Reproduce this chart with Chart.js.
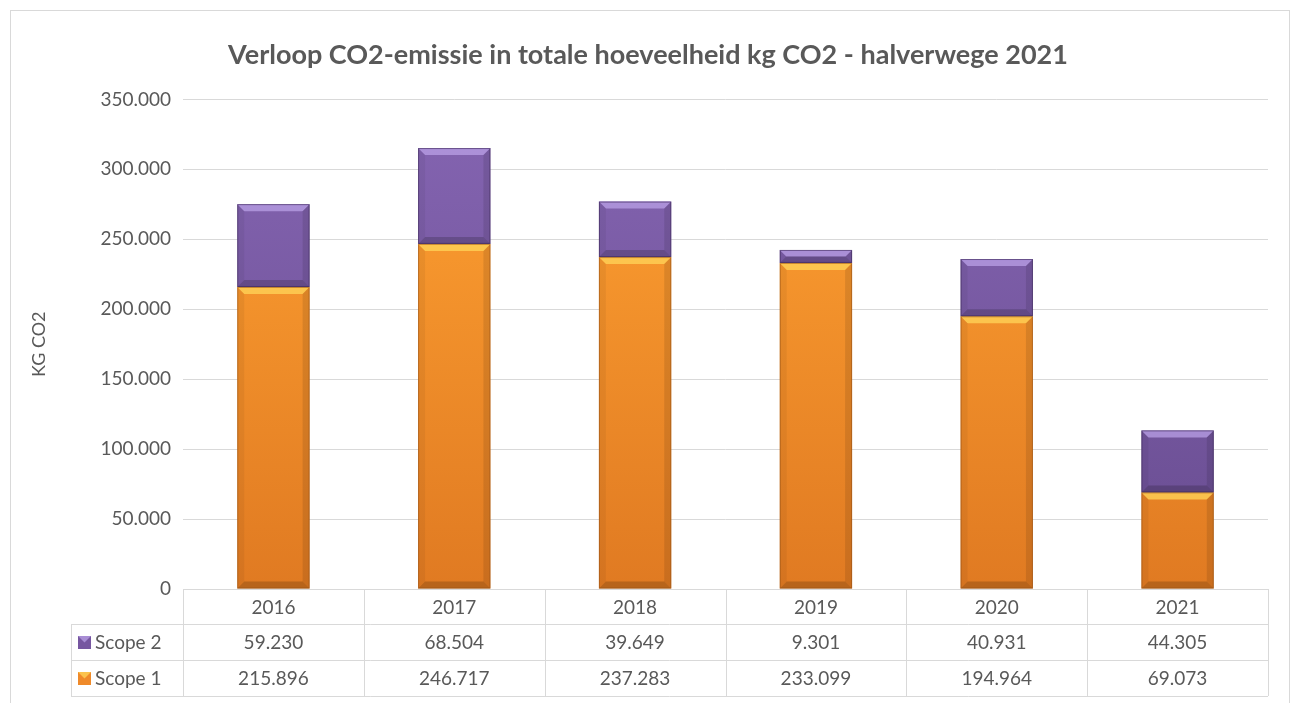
<!DOCTYPE html>
<html>
<head>
<meta charset="utf-8">
<script src="https://cdn.jsdelivr.net/npm/chart.js@4.4.1/dist/chart.umd.min.js"></script>
<style>
  html, body { margin: 0; padding: 0; background: #ffffff; }
  #wrap { width: 1300px; height: 703px; position: relative; }
</style>
</head>
<body>
<div id="wrap"><canvas id="co2Chart"></canvas></div>
<script>
const years = ['2016', '2017', '2018', '2019', '2020', '2021'];
const scope1 = [215896, 246717, 237283, 233099, 194964, 69073];
const scope2 = [59230, 68504, 39649, 9301, 40931, 44305];
const seriesNames = ['Scope 1', 'Scope 2'];
const titleText = 'Verloop CO2-emissie in totale hoeveelheid kg CO2 - halverwege 2021';
const yTitle = 'KG CO2';

const FONT = 'Lato, "Open Sans", sans-serif';
const TEXT = '#595959';
const LINE = '#d9d9d9';

const fmt = (v) => v.toString().replace(/\B(?=(\d{3})+(?!\d))/g, '.');

const gradientFor = (top, bottom) => (context) => {
  const area = context.chart.chartArea;
  if (!area) return top;
  const g = context.chart.ctx.createLinearGradient(0, area.top, 0, area.bottom);
  g.addColorStop(0, top);
  g.addColorStop(1, bottom);
  return g;
};

// bevel look on each bar, drawn from the bar elements the library placed
const bevelPlugin = {
  id: 'bevel',
  afterDatasetsDraw(chart) {
    const ctx = chart.ctx;
    chart.data.datasets.forEach((ds, i) => {
      const meta = chart.getDatasetMeta(i);
      meta.data.forEach((bar) => {
        const p = bar.getProps(['x', 'y', 'base', 'width'], true);
        const left = p.x - p.width / 2;
        const right = p.x + p.width / 2;
        const top = Math.min(p.y, p.base);
        const bottom = Math.max(p.y, p.base);
        const b = Math.min(7, (bottom - top) / 2);
        ctx.save();
        // top
        ctx.fillStyle = ds.bevelTop;
        ctx.beginPath();
        ctx.moveTo(left, top); ctx.lineTo(right, top);
        ctx.lineTo(right - b, top + b); ctx.lineTo(left + b, top + b);
        ctx.closePath(); ctx.fill();
        // left side
        ctx.fillStyle = 'rgba(0,0,0,0.05)';
        ctx.beginPath();
        ctx.moveTo(left, top); ctx.lineTo(left + b, top + b);
        ctx.lineTo(left + b, bottom - b); ctx.lineTo(left, bottom);
        ctx.closePath(); ctx.fill();
        // right side
        ctx.fillStyle = 'rgba(0,0,0,0.10)';
        ctx.beginPath();
        ctx.moveTo(right, top); ctx.lineTo(right - b, top + b);
        ctx.lineTo(right - b, bottom - b); ctx.lineTo(right, bottom);
        ctx.closePath(); ctx.fill();
        // bottom
        ctx.fillStyle = 'rgba(0,0,0,0.18)';
        ctx.beginPath();
        ctx.moveTo(left, bottom); ctx.lineTo(right, bottom);
        ctx.lineTo(right - b, bottom - b); ctx.lineTo(left + b, bottom - b);
        ctx.closePath(); ctx.fill();
        ctx.strokeStyle = ds.edge;
        ctx.lineWidth = 1;
        ctx.strokeRect(left + 0.5, top + 0.5, p.width - 1, bottom - top - 1);
        ctx.restore();
      });
    });
  }
};

// data table under the plot + outer frame
const tablePlugin = {
  id: 'dataTable',
  afterDraw(chart) {
    const ctx = chart.ctx;
    const area = chart.chartArea;
    const x = chart.scales.x;
    const rowH = 36;
    const legendLeft = 71;
    const y0 = area.bottom;
    const y1 = y0 + rowH - 1;
    const y2 = y1 + rowH;
    const y3 = y2 + rowH;
    const step = (area.right - area.left) / years.length;

    ctx.save();
    ctx.strokeStyle = LINE;
    ctx.lineWidth = 1;
    const h = (xa, xb, yy) => { ctx.beginPath(); ctx.moveTo(xa, Math.round(yy) + 0.5); ctx.lineTo(xb, Math.round(yy) + 0.5); ctx.stroke(); };
    const v = (xx, ya, yb) => { ctx.beginPath(); ctx.moveTo(Math.round(xx) + 0.5, ya); ctx.lineTo(Math.round(xx) + 0.5, yb); ctx.stroke(); };

    h(area.left, area.right, y0);
    h(legendLeft, area.right, y1);
    h(legendLeft, area.right, y2);
    h(legendLeft, area.right, y3);
    v(legendLeft, y1, y3);
    for (let i = 0; i <= years.length; i++) {
      v(area.left + i * step, y0, y3);
    }

    ctx.fillStyle = TEXT;
    ctx.font = '19px ' + FONT;
    ctx.textAlign = 'center';
    ctx.textBaseline = 'middle';
    years.forEach((yr, i) => {
      const cx = x.getPixelForValue(i);
      ctx.fillText(yr, cx, (y0 + y1) / 2 + 1);
      ctx.fillText(fmt(scope2[i]), cx, (y1 + y2) / 2 + 1);
      ctx.fillText(fmt(scope1[i]), cx, (y2 + y3) / 2 + 1);
    });

    // legend keys
    const rows = [
      { name: seriesNames[1], y: (y1 + y2) / 2, ds: chart.data.datasets[1] },
      { name: seriesNames[0], y: (y2 + y3) / 2, ds: chart.data.datasets[0] }
    ];
    rows.forEach((r) => {
      const kx = legendLeft + 7, ky = r.y - 6, ks = 13;
      ctx.fillStyle = r.ds.keyColor;
      ctx.fillRect(kx, ky, ks, ks);
      ctx.fillStyle = r.ds.bevelTop;
      ctx.beginPath();
      ctx.moveTo(kx, ky); ctx.lineTo(kx + ks, ky); ctx.lineTo(kx + ks / 2, ky + ks / 2);
      ctx.closePath(); ctx.fill();
      ctx.fillStyle = TEXT;
      ctx.textAlign = 'left';
      ctx.fillText(r.name, kx + ks + 4, r.y + 1);
    });

    // chart frame
    ctx.strokeStyle = LINE;
    ctx.strokeRect(10.5, 10.5, 1279, 760);
    ctx.restore();
  }
};

const bgPlugin = {
  id: 'bg',
  beforeDraw(chart) {
    const ctx = chart.ctx;
    ctx.save();
    ctx.fillStyle = '#ffffff';
    ctx.fillRect(0, 0, chart.width, chart.height);
    ctx.restore();
  }
};

const data = {
  labels: years,
  datasets: [
    {
      label: seriesNames[0],
      data: scope1,
      backgroundColor: gradientFor('#ffa232', '#e07a22'),
      bevelTop: 'rgba(255, 214, 90, 0.75)',
      edge: 'rgba(150, 80, 20, 0.55)',
      keyColor: '#ef8a2a',
      borderWidth: 0,
      barPercentage: 0.4,
      categoryPercentage: 1.0
    },
    {
      label: seriesNames[1],
      data: scope2,
      backgroundColor: gradientFor('#8565b2', '#684c90'),
      bevelTop: 'rgba(185, 160, 230, 0.75)',
      edge: 'rgba(60, 40, 90, 0.6)',
      keyColor: '#7656a0',
      borderWidth: 0,
      barPercentage: 0.4,
      categoryPercentage: 1.0
    }
  ]
};

const config = {
  type: 'bar',
  data: data,
  options: {
    responsive: true,
    maintainAspectRatio: false,
    animation: false,
    layout: { padding: { top: 0, right: 32, bottom: 114, left: 28 } },
    scales: {
      x: {
        stacked: true,
        display: false
      },
      y: {
        stacked: true,
        min: 0,
        max: 350000,
        afterFit: (scale) => { scale.width = 155; },
        border: { display: false },
        grid: { color: LINE, drawTicks: false },
        ticks: {
          stepSize: 50000,
          padding: 12,
          color: TEXT,
          font: { size: 19, family: FONT },
          callback: (value) => fmt(value)
        },
        title: {
          display: true,
          text: yTitle,
          color: TEXT,
          font: { size: 18, family: FONT },
          padding: { top: 0, bottom: 0 }
        }
      }
    },
    plugins: {
      legend: { display: false },
      tooltip: { enabled: false },
      title: {
        display: true,
        text: titleText,
        color: TEXT,
        font: { size: 27, weight: 'bold', family: FONT },
        padding: { top: 39, bottom: 28 }
      }
    }
  },
  plugins: [bgPlugin, bevelPlugin, tablePlugin]
};

new Chart(document.getElementById('co2Chart'), config);
</script>
</body>
</html>
